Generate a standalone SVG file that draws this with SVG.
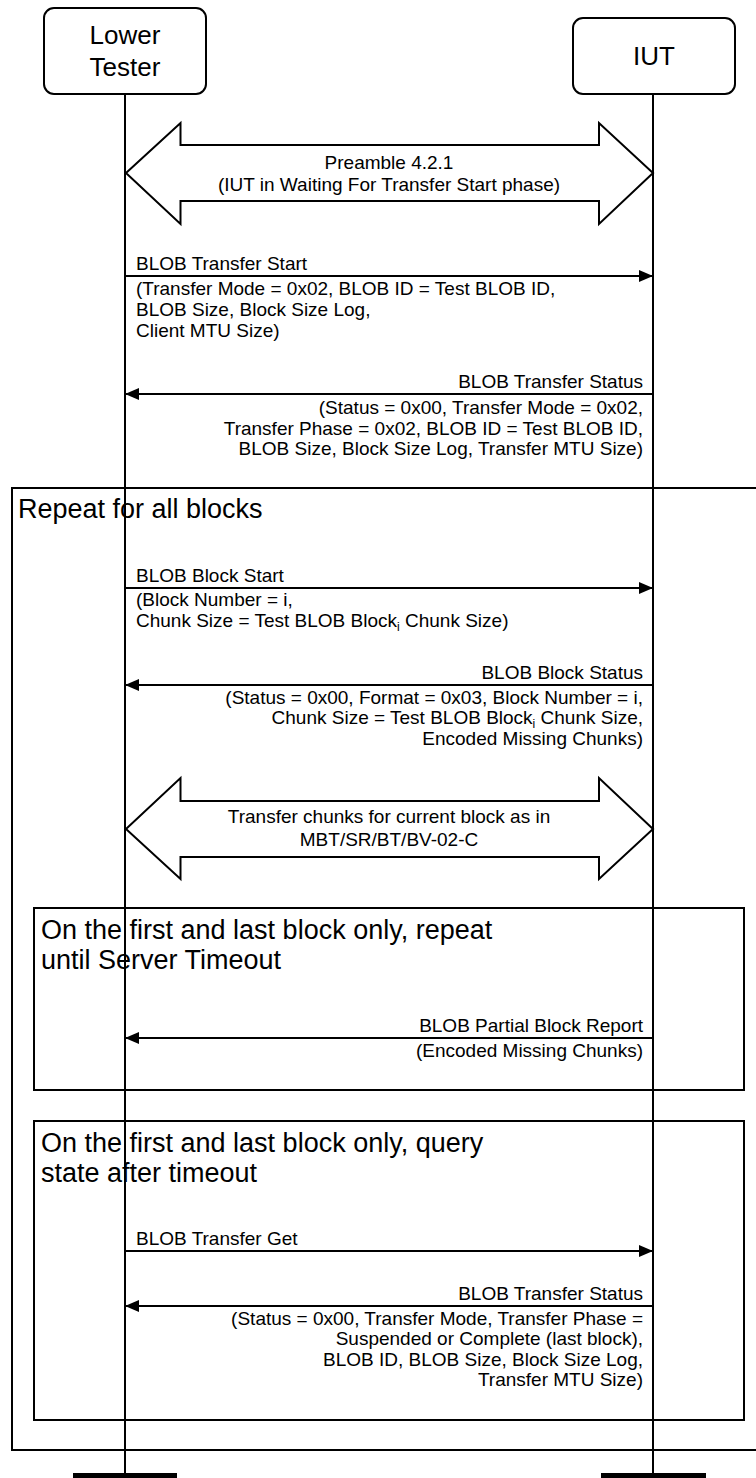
<svg xmlns="http://www.w3.org/2000/svg" width="756" height="1478" viewBox="0 0 756 1478">
<style>
.box{fill:#fff;stroke:#000;stroke-width:2}
.life{stroke:#000;stroke-width:2;fill:none}
.msg{stroke:#000;stroke-width:2;fill:none}
.frame{fill:none;stroke:#000;stroke-width:2}
.dbl{fill:#fff;stroke:#000;stroke-width:2;stroke-linejoin:miter}
text{font-family:"Liberation Sans",Arial,sans-serif;fill:#000}
.hd{font-size:26px;text-anchor:middle}
.t{font-size:19px}
.r{text-anchor:end}
.c{text-anchor:middle}
.ttl{font-size:27px}
.sub{font-size:12px}
</style>
<defs>
<marker id="ah" markerUnits="userSpaceOnUse" markerWidth="14" markerHeight="12" refX="14" refY="6" orient="auto">
<path d="M0,0 L14,6 L0,12 z" fill="#000"/>
</marker>
</defs>
<rect width="756" height="1478" fill="#fff"/>

<g id="frame-repeat">
<path class="frame" d="M760,488 H12 V1450 H760"/>
<text class="ttl" x="18" y="518">Repeat for all blocks</text>
</g>
<g id="frame-timeout">
<rect class="frame" x="34" y="908" width="710" height="182"/>
<text class="ttl" x="41" y="939">On the first and last block only, repeat</text>
<text class="ttl" x="41" y="969">until Server Timeout</text>
</g>
<g id="frame-query">
<rect class="frame" x="34" y="1121" width="710" height="299"/>
<text class="ttl" x="41" y="1152">On the first and last block only, query</text>
<text class="ttl" x="41" y="1182">state after timeout</text>
</g>

<g id="lifelines">
<line class="life" x1="125" y1="94" x2="125" y2="1474"/>
<line class="life" x1="653" y1="94" x2="653" y2="1474"/>
<rect x="73" y="1473" width="104" height="5" fill="#000"/>
<rect x="601" y="1473" width="105" height="5" fill="#000"/>
</g>

<g id="lower-tester">
<rect class="box" x="44" y="8" width="162" height="86" rx="10"/>
<text class="hd" x="125" y="44">Lower</text>
<text class="hd" x="125" y="76">Tester</text>
</g>
<g id="iut">
<rect class="box" x="573" y="18" width="162" height="76" rx="10"/>
<text class="hd" x="654" y="65">IUT</text>
</g>

<g id="preamble">
<polygon class="dbl" points="126,173 180.5,123 180.5,145 599,145 599,123 653,173 599,224 599,201 180.5,201 180.5,224"/>
<text class="t c" x="389" y="168.5">Preamble 4.2.1</text>
<text class="t c" x="389" y="191">(IUT in Waiting For Transfer Start phase)</text>
</g>

<g id="transfer-chunks">
<polygon class="dbl" points="126,829 180.5,778 180.5,801 599,801 599,778 653,829 599,879 599,857 180.5,857 180.5,879"/>
<text class="t c" x="389" y="823">Transfer chunks for current block as in</text>
<text class="t c" x="389" y="846">MBT/SR/BT/BV-02-C</text>
</g>

<g id="connectors">
<line class="msg" x1="125" y1="276" x2="653" y2="276" marker-end="url(#ah)"/>
<line class="msg" x1="653" y1="394" x2="125" y2="394" marker-end="url(#ah)"/>
<line class="msg" x1="125" y1="588" x2="653" y2="588" marker-end="url(#ah)"/>
<line class="msg" x1="653" y1="685" x2="125" y2="685" marker-end="url(#ah)"/>
<line class="msg" x1="653" y1="1038" x2="125" y2="1038" marker-end="url(#ah)"/>
<line class="msg" x1="125" y1="1251" x2="653" y2="1251" marker-end="url(#ah)"/>
<line class="msg" x1="653" y1="1306" x2="125" y2="1306" marker-end="url(#ah)"/>
</g>

<g id="labels">
<text class="t" x="136" y="270">BLOB Transfer Start</text>
<text class="t" x="136" y="295">(Transfer Mode = 0x02, BLOB ID = Test BLOB ID,</text>
<text class="t" x="136" y="316">BLOB Size, Block Size Log,</text>
<text class="t" x="136" y="337">Client MTU Size)</text>

<text class="t r" x="643" y="388">BLOB Transfer Status</text>
<text class="t r" x="643" y="414">(Status = 0x00, Transfer Mode = 0x02,</text>
<text class="t r" x="643" y="434.5">Transfer Phase = 0x02, BLOB ID = Test BLOB ID,</text>
<text class="t r" x="643" y="455">BLOB Size, Block Size Log, Transfer MTU Size)</text>

<text class="t" x="136" y="582">BLOB Block Start</text>
<text class="t" x="136" y="606">(Block Number = i,</text>
<text class="t" x="136" y="626.5">Chunk Size = Test BLOB Block<tspan class="sub" dy="4">i</tspan><tspan dy="-4"> Chunk Size)</tspan></text>

<text class="t r" x="643" y="679">BLOB Block Status</text>
<text class="t r" x="643" y="703.5">(Status = 0x00, Format = 0x03, Block Number = i,</text>
<text class="t r" x="643" y="724">Chunk Size = Test BLOB Block<tspan class="sub" dy="4">i</tspan><tspan dy="-4"> Chunk Size,</tspan></text>
<text class="t r" x="643" y="744.5">Encoded Missing Chunks)</text>

<text class="t r" x="643" y="1032">BLOB Partial Block Report</text>
<text class="t r" x="643" y="1056.5">(Encoded Missing Chunks)</text>

<text class="t" x="136" y="1245">BLOB Transfer Get</text>

<text class="t r" x="643" y="1300">BLOB Transfer Status</text>
<text class="t r" x="643" y="1324.5">(Status = 0x00, Transfer Mode, Transfer Phase =</text>
<text class="t r" x="643" y="1345">Suspended or Complete (last block),</text>
<text class="t r" x="643" y="1365.5">BLOB ID, BLOB Size, Block Size Log,</text>
<text class="t r" x="643" y="1386">Transfer MTU Size)</text>
</g>
</svg>
